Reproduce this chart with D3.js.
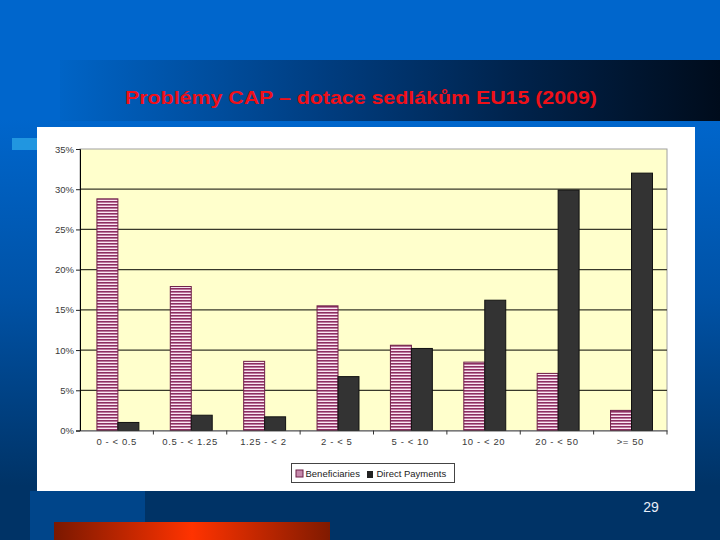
<!DOCTYPE html>
<html><head><meta charset="utf-8">
<script src="https://cdn.jsdelivr.net/npm/d3@7/dist/d3.min.js"></script>
<style>html,body{margin:0;padding:0;background:#0066cc;}svg{display:block;}</style>
</head><body>
<script>
const categories = ["0 - < 0.5","0.5 - < 1.25","1.25 - < 2","2 - < 5","5 - < 10","10 - < 20","20 - < 50",">= 50"];
const beneficiaries = [28.8, 17.9, 8.6, 15.5, 10.6, 8.5, 7.1, 2.5];
const directPayments = [1.0, 1.9, 1.7, 6.7, 10.2, 16.2, 29.9, 32.0];
const seriesNames = ["Beneficiaries","Direct Payments"];
const yTicks = [0,5,10,15,20,25,30,35];
const title = "Problémy CAP – dotace sedlákům EU15 (2009)";
const pageNumber = "29";

(function(){
const W = 720, H = 540;
const svg = d3.select("body").append("svg").attr("width", W).attr("height", H);
const defs = svg.append("defs");

// background gradient
const bg = defs.append("linearGradient").attr("id","bg").attr("x1",0).attr("y1",0).attr("x2",0).attr("y2",1);
bg.append("stop").attr("offset","0.22").attr("stop-color","#0066cc");
bg.append("stop").attr("offset","0.55").attr("stop-color","#0052a6");
bg.append("stop").attr("offset","0.9").attr("stop-color","#003366");
bg.append("stop").attr("offset","1").attr("stop-color","#003366");
svg.append("rect").attr("width",W).attr("height",H).attr("fill","url(#bg)");

// bottom band
svg.append("rect").attr("x",0).attr("y",491).attr("width",W).attr("height",49).attr("fill","#003366");
svg.append("rect").attr("x",30).attr("y",491).attr("width",115).attr("height",49).attr("fill","#00458a");
const rg = defs.append("linearGradient").attr("id","redg");
rg.append("stop").attr("offset","0").attr("stop-color","#7a1800");
rg.append("stop").attr("offset","0.5").attr("stop-color","#ff3300");
rg.append("stop").attr("offset","1").attr("stop-color","#801a00");
svg.append("rect").attr("x",54).attr("y",522).attr("width",276).attr("height",18).attr("fill","url(#redg)");

// title band
const tg = defs.append("linearGradient").attr("id","tband");
tg.append("stop").attr("offset","0").attr("stop-color","#0064c6");
tg.append("stop").attr("offset","0.4").attr("stop-color","#003d80");
tg.append("stop").attr("offset","0.7").attr("stop-color","#00224a");
tg.append("stop").attr("offset","1").attr("stop-color","#000c1c");
svg.append("rect").attr("x",60).attr("y",60).attr("width",660).attr("height",61).attr("fill","url(#tband)");

svg.append("text").attr("x",125).attr("y",104)
  .attr("font-family","Liberation Sans, Arial, sans-serif").attr("font-weight","bold")
  .attr("font-size",19).attr("fill","#f01018")
  .attr("textLength",472).attr("lengthAdjust","spacingAndGlyphs")
  .text(title);

// small accent
svg.append("rect").attr("x",12).attr("y",138).attr("width",25).attr("height",12).attr("fill","#2196e0");

// white panel
svg.append("rect").attr("x",37).attr("y",127).attr("width",658).attr("height",364).attr("fill","#ffffff");

// plot
const pL = 80, pR = 667, pT = 149, pB = 430.5;
const x = d3.scaleBand().domain(categories).range([pL,pR]);
const x1 = d3.scaleBand().domain(seriesNames).range([0,x.bandwidth()]).paddingInner(0).paddingOuter(0.75);
const y = d3.scaleLinear().domain([0,35]).range([pB,pT]);

svg.append("rect").attr("x",pL).attr("y",pT).attr("width",pR-pL).attr("height",pB-pT)
  .attr("fill","#ffffcc").attr("stroke","#a0a0a0").attr("stroke-width",1);

// gridlines
svg.append("g").selectAll("line").data(yTicks.filter(d=>d>0 && d<35)).join("line")
  .attr("x1",pL).attr("x2",pR).attr("y1",d=>y(d)).attr("y2",d=>y(d))
  .attr("stroke","#38382a").attr("stroke-width",1.2);

// pattern
const pat = defs.append("pattern").attr("id","stripes").attr("patternUnits","userSpaceOnUse")
  .attr("width",6).attr("height",3);
pat.append("rect").attr("width",6).attr("height",3).attr("fill","#fbe6f3");
pat.append("rect").attr("width",6).attr("height",1.6).attr("fill","#8e2e62");
const pat2 = defs.append("pattern").attr("id","stripes2").attr("patternUnits","userSpaceOnUse")
  .attr("width",6).attr("height",2);
pat2.append("rect").attr("width",6).attr("height",2).attr("fill","#fbe6f3");
pat2.append("rect").attr("width",6).attr("height",1).attr("fill","#8e2e62");

const rows = categories.map((c,i)=>({c, vals:[beneficiaries[i], directPayments[i]]}));
const g = svg.append("g").selectAll("g").data(rows).join("g").attr("transform",d=>`translate(${x(d.c)+1.2},0)`);
g.selectAll("rect").data(d=>d.vals.map((v,j)=>({s:seriesNames[j],v}))).join("rect")
  .attr("x",d=>x1(d.s)).attr("width",x1.bandwidth())
  .attr("y",d=>y(d.v)).attr("height",d=>y(0)-y(d.v))
  .attr("fill",d=>d.s==="Beneficiaries"?"url(#stripes)":"#333333")
  .attr("stroke",d=>d.s==="Beneficiaries"?"#6e2048":"#111111").attr("stroke-width",1);

// axes
const yAxis = d3.axisLeft(y).tickValues(yTicks).tickSize(4).tickFormat(d=>d+"%");
const ya = svg.append("g").attr("transform",`translate(${pL},0)`).call(yAxis);
ya.select(".domain").attr("stroke","#000");
ya.selectAll(".tick line").attr("stroke","#222");
ya.selectAll("text").attr("font-family","Liberation Sans, Arial, sans-serif").attr("font-size",9.5).attr("fill","#3a3a3a").attr("x",-6);

const xa = svg.append("g").attr("transform",`translate(0,${pB})`)
  .call(d3.axisBottom(x).tickSize(0).tickPadding(8));
xa.select(".domain").attr("stroke","#555");
xa.selectAll("text").attr("font-family","Liberation Sans, Arial, sans-serif").attr("font-size",9.5)
  .attr("letter-spacing","0.6px").attr("fill","#3a3a3a");
// category separators
xa.append("g").selectAll("line").data(categories.slice(1).concat(["__end"])).join("line")
  .attr("x1",d=>d==="__end"?pR:x(d)).attr("x2",d=>d==="__end"?pR:x(d))
  .attr("y1",0).attr("y2",4).attr("stroke","#333");

// legend
const lg = svg.append("g").attr("transform","translate(291.5,463.5)");
lg.append("rect").attr("width",163).attr("height",19).attr("fill","#fff").attr("stroke","#444");
lg.append("rect").attr("x",4.5).attr("y",6.5).attr("width",7).attr("height",7).attr("fill","url(#stripes2)").attr("stroke","#6e2048");
lg.append("text").attr("x",14).attr("y",13).attr("font-family","Liberation Sans, Arial, sans-serif").attr("font-size",9.5).attr("fill","#222").text(seriesNames[0]);
lg.append("rect").attr("x",75.5).attr("y",7.5).attr("width",6).attr("height",7).attr("fill","#222");
lg.append("text").attr("x",85).attr("y",13).attr("font-family","Liberation Sans, Arial, sans-serif").attr("font-size",9.5).attr("fill","#222").text(seriesNames[1]);

// page number
svg.append("text").attr("x",651).attr("y",512).attr("text-anchor","middle")
  .attr("font-family","Liberation Sans Narrow, Arial Narrow, sans-serif").attr("font-size",14).attr("fill","#e8eef8").text(pageNumber);
})();
</script>
</body></html>
